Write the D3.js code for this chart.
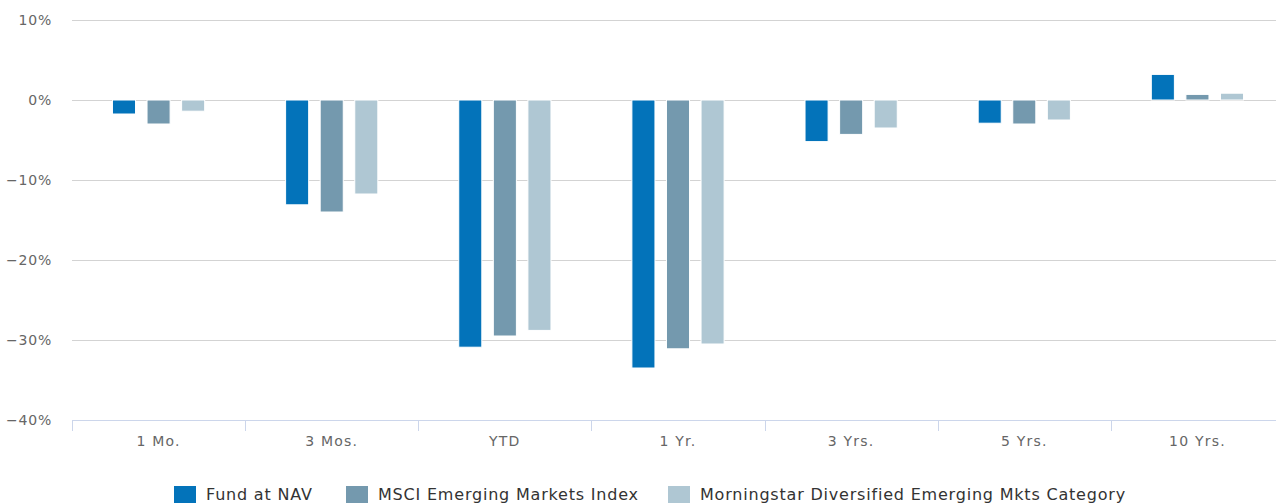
<!DOCTYPE html>
<html>
<head>
<meta charset="utf-8">
<script src="https://cdn.jsdelivr.net/npm/d3@7"></script>
<style>
  body { margin: 0; background: #fff; overflow: hidden; }
  svg { display: block; font-family: "DejaVu Sans", Verdana, sans-serif; }
</style>
</head>
<body>
<div id="chart"></div>
<script>
// Data
const categories = ["1 Mo.", "3 Mos.", "YTD", "1 Yr.", "3 Yrs.", "5 Yrs.", "10 Yrs."];
const seriesNames = ["Fund at NAV", "MSCI Emerging Markets Index", "Morningstar Diversified Emerging Mkts Category"];
const fundValues = [-1.75, -13.1, -30.9, -33.5, -5.2, -2.9, 3.2];
const indexValues = [-3.0, -14.0, -29.5, -31.1, -4.3, -3.0, 0.7];
const categoryValues = [-1.4, -11.75, -28.8, -30.5, -3.5, -2.5, 0.85];
const yTicks = [10, 0, -10, -20, -30, -40];
const colors = ["#0373ba", "#7499ae", "#afc7d3"];

const series = [fundValues, indexValues, categoryValues];

// Dimensions
const W = 1276, H = 504;
const margin = { top: 20, left: 72 };
const plotRight = 1284;   // plot runs slightly past the window edge
const plotBottom = 420;

const svg = d3.select("#chart")
  .append("svg")
  .attr("width", W)
  .attr("height", H);

// Scales
const x0 = d3.scaleBand()
  .domain(categories)
  .range([margin.left, plotRight])
  .padding(0);

const x1 = d3.scaleBand()
  .domain(d3.range(series.length))
  .range([0, x0.bandwidth()])
  .paddingInner(0.333)
  .paddingOuter(1.17);

const y = d3.scaleLinear()
  .domain([-40, 10])
  .range([plotBottom, margin.top]);

// Gridlines
svg.append("g")
  .selectAll("line")
  .data(yTicks.filter(d => d !== -40))
  .join("line")
  .attr("x1", margin.left)
  .attr("x2", plotRight)
  .attr("y1", d => Math.round(y(d)) + 0.5)
  .attr("y2", d => Math.round(y(d)) + 0.5)
  .attr("stroke", "#d3d3d3")
  .attr("stroke-width", 1);

// Y labels
svg.append("g")
  .selectAll("text")
  .data(yTicks)
  .join("text")
  .attr("x", 52)
  .attr("y", d => y(d) + 5)
  .attr("text-anchor", "end")
  .style("font-size", "14px")
  .style("letter-spacing", "0.8px")
  .attr("fill", "#666")
  .text(d => (d < 0 ? "\u2212" + Math.abs(d) : d) + "%");

// Bars
const groups = svg.append("g")
  .selectAll("g")
  .data(categories)
  .join("g")
  .attr("transform", d => `translate(${x0(d)},0)`);

groups.selectAll("rect")
  .data((c, i) => series.map((s, k) => ({ k, v: s[i] })))
  .join("rect")
  .attr("x", d => x1(d.k))
  .attr("width", x1.bandwidth())
  .attr("y", d => y(Math.max(0, d.v)))
  .attr("height", d => Math.abs(y(d.v) - y(0)))
  .attr("fill", d => colors[d.k])
  .attr("stroke", "#fff")
  .attr("stroke-width", 1);

// X axis line and ticks
svg.append("line")
  .attr("x1", margin.left)
  .attr("x2", plotRight)
  .attr("y1", plotBottom + 0.5)
  .attr("y2", plotBottom + 0.5)
  .attr("stroke", "#ccd6eb");

svg.append("g")
  .selectAll("line")
  .data(categories)
  .join("line")
  .attr("x1", d => Math.round(x0(d)) + 0.5)
  .attr("x2", d => Math.round(x0(d)) + 0.5)
  .attr("y1", plotBottom)
  .attr("y2", plotBottom + 11)
  .attr("stroke", "#ccd6eb");

svg.append("g")
  .selectAll("text")
  .data(categories)
  .join("text")
  .attr("x", d => x0(d) + x0.bandwidth() / 2)
  .attr("y", 446)
  .attr("text-anchor", "middle")
  .style("font-size", "14px")
  .style("letter-spacing", "1.2px")
  .attr("fill", "#666")
  .text(d => d);

// Legend
const legendX = [174, 346, 668];
const legend = svg.append("g")
  .selectAll("g")
  .data(seriesNames)
  .join("g")
  .attr("transform", (d, i) => `translate(${legendX[i]},486)`);

legend.append("rect")
  .attr("width", 22)
  .attr("height", 17)
  .attr("fill", (d, i) => colors[i]);

legend.append("text")
  .attr("x", 32)
  .attr("y", 14)
  .style("font-size", "16px")
  .style("letter-spacing", "0.8px")
  .attr("fill", "#333")
  .text(d => d);
</script>
</body>
</html>
